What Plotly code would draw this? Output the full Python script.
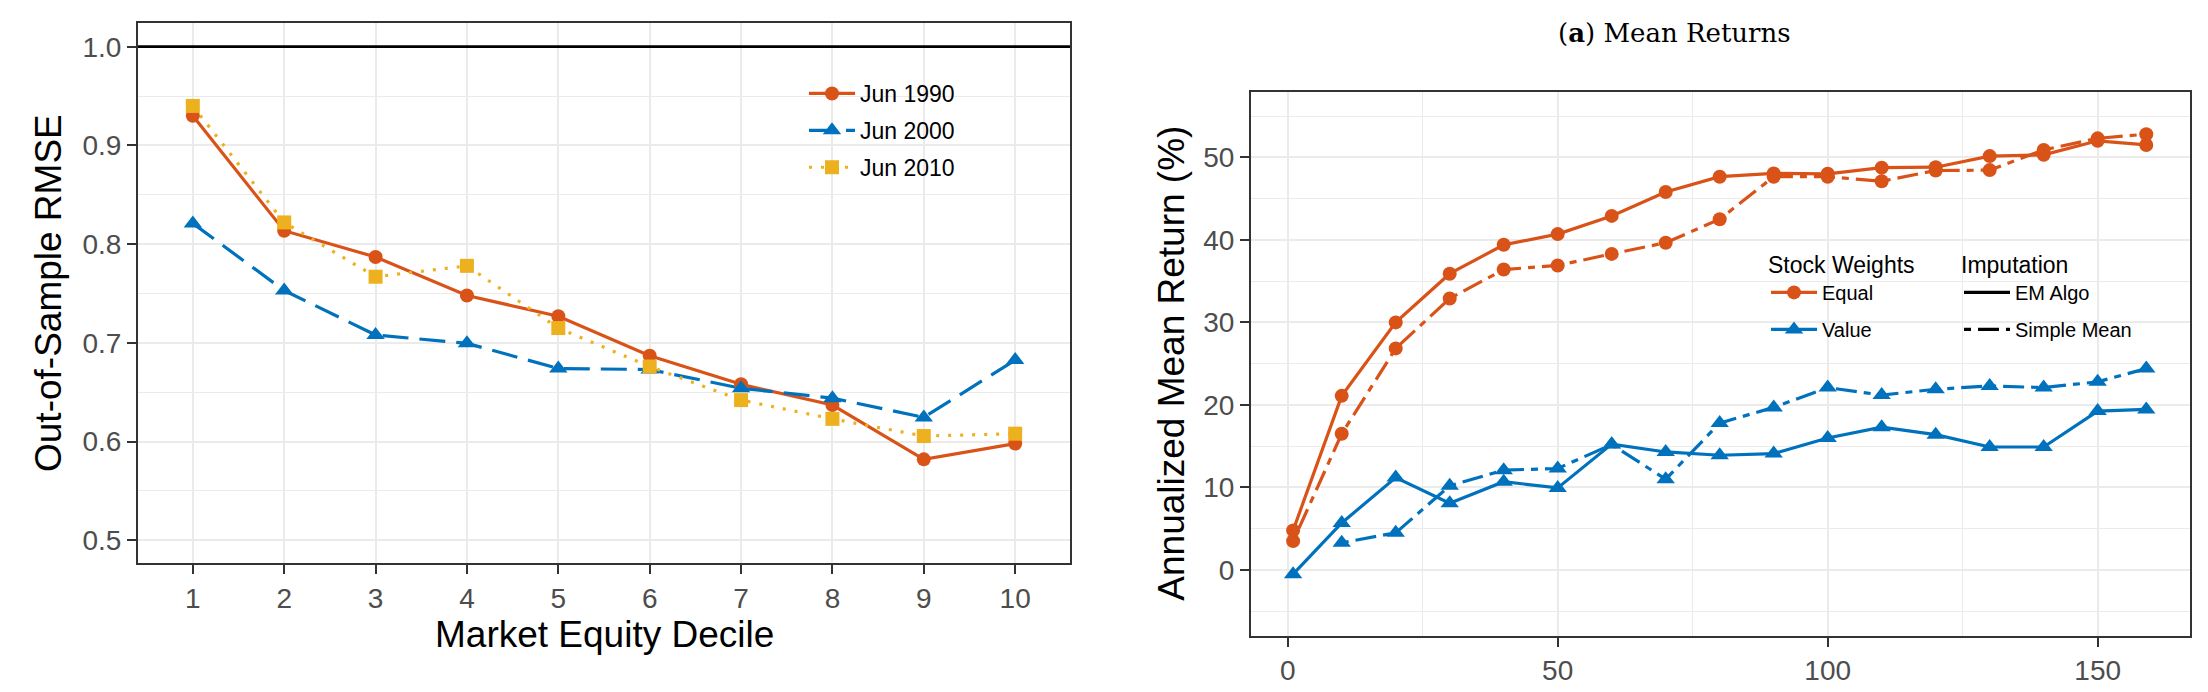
import plotly.graph_objects as go

# ---------------- data ----------------
deciles = [1, 2, 3, 4, 5, 6, 7, 8, 9, 10]
jun1990 = [0.930, 0.8136, 0.787, 0.748, 0.727, 0.687, 0.658, 0.637, 0.582, 0.598]
jun2000 = [0.821, 0.753, 0.708, 0.6995, 0.674, 0.673, 0.654, 0.644, 0.6245, 0.6826]
jun2010 = [0.940, 0.822, 0.767, 0.778, 0.715, 0.676, 0.642, 0.623, 0.6056, 0.608]
rmse_ref = 1.0

n_pcs = [1, 10, 20, 30, 40, 50, 60, 70, 80, 90, 100, 110, 120, 130, 140, 150, 159]
ew_em = [4.8, 21.1, 30.0, 35.9, 39.4, 40.7, 42.9, 45.8, 47.65, 48.05, 48.0, 48.75, 48.8, 50.15, 50.3, 52.0, 51.5]
ew_sm = [3.5, 16.5, 26.85, 32.9, 36.4, 36.9, 38.3, 39.65, 42.5, 47.65, 47.65, 47.1, 48.4, 48.45, 50.9, 52.3, 52.8]
vw_em = [-0.5, 5.7, 11.2, 8.1, 10.7, 9.95, 15.25, 14.3, 13.9, 14.1, 16.0, 17.3, 16.4, 14.9, 14.9, 19.25, 19.45]
vw_sm = [None, 3.3, 4.5, 10.2, 12.1, 12.3, 15.2, 11.0, 17.8, 19.7, 22.1, 21.2, 21.9, 22.3, 22.1, 22.8, 24.4]

left_series_names = ["Jun 1990", "Jun 2000", "Jun 2010"]
weight_names = ["Equal", "Value"]
imput_names = ["EM Algo", "Simple Mean"]

# ---------------- style ----------------
W, H = 2208, 692
ORANGE = "#D95319"
BLUE = "#0072BD"
YELLOW = "#EDB120"
GRID = "#EBEBEB"
BORDER = "#333333"
TICKC = "#4D4D4D"
SANS = "Liberation Sans, Arial, sans-serif"
SERIF = "DejaVu Serif, serif"

LW = 3.2
DASH_LONG = "26px,11px"
DASH_DOT = "3px,9px"
DASH_TWO = "7px,7px,21px,7px"
CIRC, TRI, SQ = 14, 16, 14


def px_x(p):
    return p / W


def px_y(p):
    return 1 - p / H


fig = go.Figure()

# ---------- left panel ----------
left_data = [jun1990, jun2000, jun2010]
left_cols = [ORANGE, BLUE, YELLOW]
left_dash = ["solid", DASH_LONG, DASH_DOT]
left_sym = ["circle", "triangle-up", "square"]
left_size = [CIRC, TRI, SQ]

for ys, c, d in zip(left_data, left_cols, left_dash):
    fig.add_trace(go.Scatter(x=deciles, y=ys, mode="lines", line=dict(color=c, width=LW, dash=d),
                             showlegend=False, hoverinfo="skip", xaxis="x", yaxis="y"))
for ys, c, s, sz in zip(left_data, left_cols, left_sym, left_size):
    fig.add_trace(go.Scatter(x=deciles, y=ys, mode="markers", marker=dict(color=c, symbol=s, size=sz),
                             showlegend=False, xaxis="x", yaxis="y"))
for name, c, d, s, sz in zip(left_series_names, left_cols, left_dash, left_sym, left_size):
    fig.add_trace(go.Scatter(x=[None], y=[None], mode="lines+markers", name=name, legendgroup=name,
                             line=dict(color=c, width=LW, dash=d), marker=dict(color=c, symbol=s, size=sz),
                             legend="legend", xaxis="x", yaxis="y"))

# ---------- right panel ----------
right_data = [(ew_em, ORANGE, "solid", "circle", CIRC), (ew_sm, ORANGE, DASH_TWO, "circle", CIRC),
              (vw_em, BLUE, "solid", "triangle-up", TRI), (vw_sm, BLUE, DASH_TWO, "triangle-up", TRI)]
for ys, c, d, s, sz in right_data:
    fig.add_trace(go.Scatter(x=n_pcs, y=ys, mode="lines", line=dict(color=c, width=LW, dash=d),
                             showlegend=False, hoverinfo="skip", xaxis="x2", yaxis="y2"))
for ys, c, d, s, sz in right_data:
    fig.add_trace(go.Scatter(x=n_pcs, y=ys, mode="markers", marker=dict(color=c, symbol=s, size=sz),
                             showlegend=False, xaxis="x2", yaxis="y2"))

for name, c, s, sz in zip(weight_names, [ORANGE, BLUE], ["circle", "triangle-up"], [CIRC, TRI]):
    fig.add_trace(go.Scatter(x=[None], y=[None], mode="lines+markers", name=name, legendgroup=name,
                             line=dict(color=c, width=LW), marker=dict(color=c, symbol=s, size=sz),
                             legend="legend2", xaxis="x2", yaxis="y2"))
for name, d in zip(imput_names, ["solid", DASH_TWO]):
    fig.add_trace(go.Scatter(x=[None], y=[None], mode="lines", name=name, legendgroup=name,
                             line=dict(color="black", width=LW, dash=d),
                             legend="legend3", xaxis="x2", yaxis="y2"))

# reference line at 1.0
fig.add_shape(type="line", xref="x domain", yref="y", x0=0, x1=1, y0=rmse_ref, y1=rmse_ref,
              line=dict(color="black", width=2.8), layer="above")

axis_common = dict(showline=True, mirror=True, linecolor=BORDER, linewidth=2,
                   ticks="outside", ticklen=9, tickwidth=2, tickcolor=BORDER,
                   tickfont=dict(family=SANS, size=28, color=TICKC),
                   showgrid=True, gridcolor=GRID, gridwidth=2.2, zeroline=False,
                   automargin=False, fixedrange=True)

legend_common = dict(xanchor="left", yanchor="top", bgcolor="rgba(0,0,0,0)",
                     itemclick=False, itemdoubleclick=False, itemwidth=46)

fig.update_layout(
    width=W, height=H, margin=dict(l=0, r=0, t=0, b=0),
    paper_bgcolor="white", plot_bgcolor="white",
    font=dict(family=SANS, color="black"),
    xaxis=dict(axis_common, domain=[px_x(138), px_x(1070)], range=[0.4, 10.6],
               tickmode="array", tickvals=deciles, anchor="y"),
    yaxis=dict(axis_common, domain=[px_y(563), px_y(23)], range=[0.477, 1.024],
               tick0=0.5, dtick=0.1, tickformat=".1f", anchor="x",
               minor=dict(tick0=0.5, dtick=0.05, showgrid=True, gridcolor=GRID, gridwidth=1.2, ticks="")),
    xaxis2=dict(axis_common, domain=[px_x(1251), px_x(2190)], range=[-6.8, 167.1],
                tick0=0, dtick=50, anchor="y2",
                minor=dict(tick0=0, dtick=25, showgrid=True, gridcolor=GRID, gridwidth=1.2, ticks="")),
    yaxis2=dict(axis_common, domain=[px_y(635.7), px_y(91.7)], range=[-7.96, 57.95],
                tick0=0, dtick=10, anchor="x2",
                minor=dict(tick0=0, dtick=5, showgrid=True, gridcolor=GRID, gridwidth=1.2, ticks="")),
    legend=dict(legend_common, x=px_x(804), y=px_y(72), tracegroupgap=4,
                font=dict(family=SANS, size=23, color="black")),
    legend2=dict(legend_common, x=px_x(1766), y=px_y(243), tracegroupgap=8,
                 font=dict(family=SANS, size=20, color="black"),
                 title=dict(text="Stock Weights", font=dict(family=SANS, size=23, color="black"))),
    legend3=dict(legend_common, x=px_x(1959), y=px_y(243), tracegroupgap=8,
                 font=dict(family=SANS, size=20, color="black"),
                 title=dict(text="Imputation", font=dict(family=SANS, size=23, color="black"))),
)

annos = [
    dict(text="Out-of-Sample RMSE", x=px_x(48), y=px_y(293), textangle=-90, size=37, fam=SANS),
    dict(text="Market Equity Decile", x=px_x(604), y=px_y(634), textangle=0, size=37, fam=SANS),
    dict(text="Annualized Mean Return (%)", x=px_x(1172), y=px_y(363.7), textangle=-90, size=37, fam=SANS),
    dict(text="Number of PCs", x=px_x(1720), y=px_y(706), textangle=0, size=37, fam=SANS),
    dict(text="(<b>a</b>) Mean Returns", x=px_x(1674), y=px_y(33), textangle=0, size=26, fam=SERIF),
]
for a in annos:
    fig.add_annotation(text=a["text"], x=a["x"], y=a["y"], xref="paper", yref="paper",
                       xanchor="center", yanchor="middle", showarrow=False, textangle=a["textangle"],
                       font=dict(family=a["fam"], size=a["size"], color="black"))

fig.write_html("out.html")
